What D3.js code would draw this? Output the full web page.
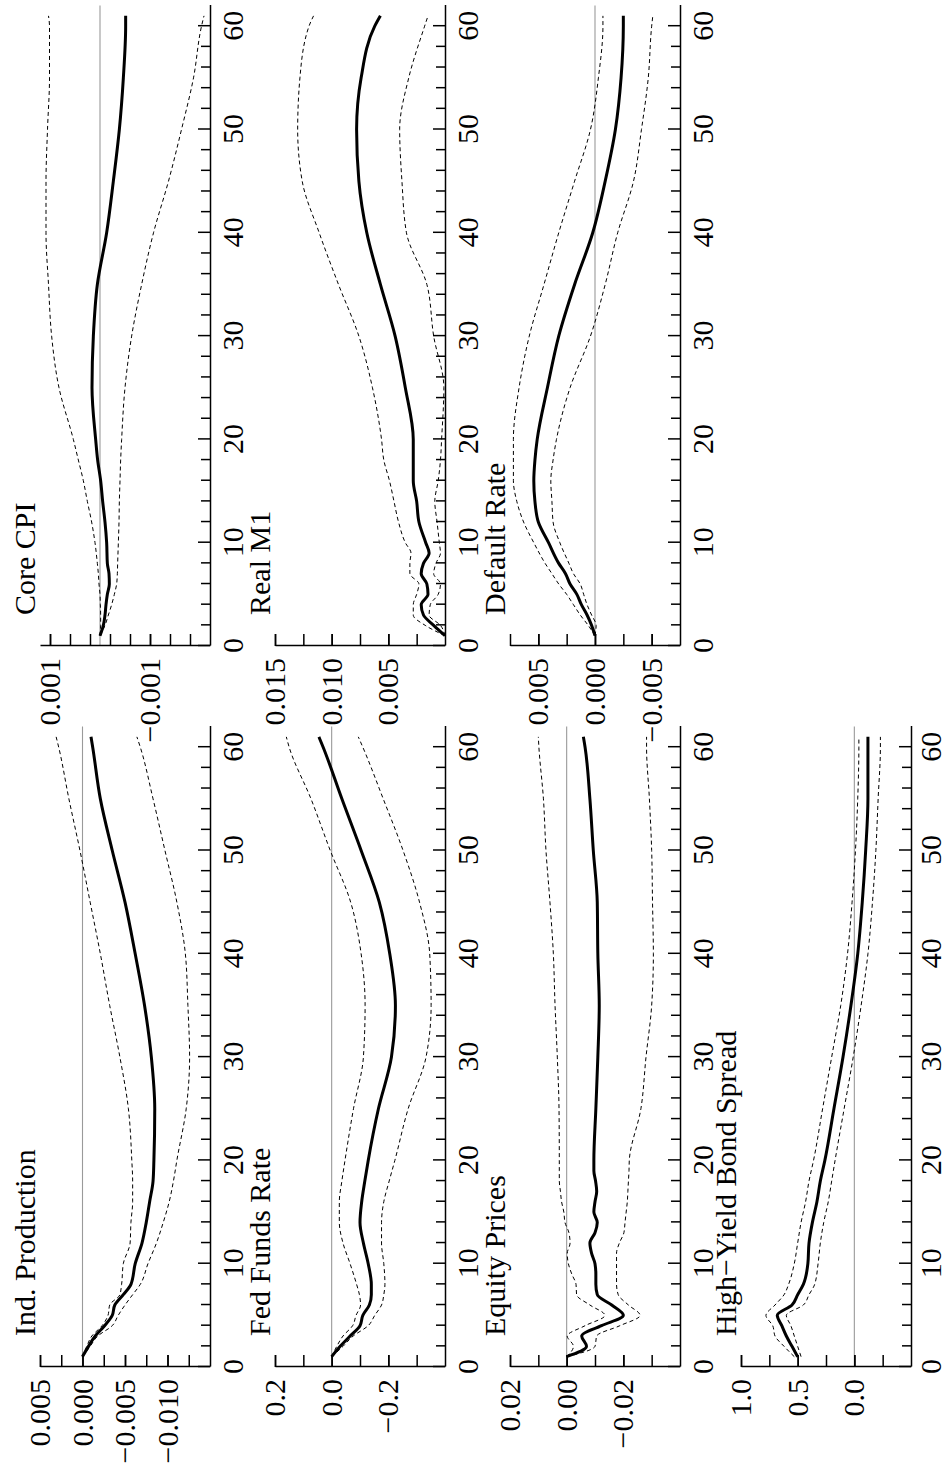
<!DOCTYPE html>
<html><head><meta charset="utf-8">
<script src="https://cdn.jsdelivr.net/npm/d3@7"></script>
<style>
html,body{margin:0;padding:0;background:#fff;}
svg{display:block;}
text{font-family:"Liberation Serif","Times New Roman",serif;}
</style>
</head><body>
<svg id="c" width="948" height="1465"></svg>
<script>
// ---------------- data ----------------
const horizons   = [1,2,3,4,5,6,7,8,10,12,14,16,18,20,25,30,35,40,45,50,55,60,61];
const horizonsM1 = [1,2,3,4,5,6,7,8,9,10,12,14,16,18,20,25,30,35,40,45,50,55,60,61];
const horizonsEq = [1,2,3,4,5,6,7,8,9,10,11,12,13,14,15,16,17,18,19,20,25,30,35,40,45,50,55,60,61];

const ipMid = [0,-0.0007,-0.0015,-0.0026,-0.0035,-0.0038,-0.0048,-0.0057,-0.0062,-0.0070,-0.0075,-0.0079,-0.0083,-0.0084,-0.0085,-0.0081,-0.0073,-0.0062,-0.0050,-0.0035,-0.0021,-0.0012,-0.0010];
const ipHi  = [0,-0.0005,-0.0011,-0.0023,-0.0030,-0.0032,-0.0044,-0.0046,-0.0048,-0.0056,-0.0057,-0.0059,-0.0059,-0.0058,-0.0054,-0.0044,-0.0032,-0.0021,-0.0009,0.0003,0.0016,0.0028,0.0031];
const ipLo  = [0,-0.0009,-0.0018,-0.0035,-0.0042,-0.0050,-0.0059,-0.0068,-0.0077,-0.0087,-0.0095,-0.0102,-0.0107,-0.0111,-0.0122,-0.0126,-0.0124,-0.0121,-0.0111,-0.0097,-0.0083,-0.0068,-0.0064];

const cpiMid = [0,-0.000067,-0.0001,-0.00012,-0.000147,-0.000187,-0.00018,-0.000147,-0.000133,-0.0001,-0.000053,-0.000013,0.000047,0.000087,0.00016,0.000133,0.000053,-0.000133,-0.000267,-0.000387,-0.000467,-0.000513,-0.000513];
const cpiHi  = [0,-0.000013,-0.000013,-0.000007,0,0.00002,0.000033,0.000053,0.0001,0.000167,0.000253,0.000333,0.000433,0.000533,0.00082,0.000967,0.00103,0.00108,0.00108,0.00105,0.00101,0.00101,0.00103];
const cpiLo  = [0,-0.0001,-0.000167,-0.000233,-0.000287,-0.000333,-0.000347,-0.000353,-0.000367,-0.00038,-0.000387,-0.0004,-0.000413,-0.000433,-0.0005,-0.000633,-0.000833,-0.00107,-0.00137,-0.00163,-0.00187,-0.00203,-0.00208];

const ffMid = [0,-0.03,-0.065,-0.10,-0.11,-0.133,-0.14,-0.14,-0.129,-0.112,-0.10,-0.106,-0.117,-0.129,-0.165,-0.211,-0.225,-0.205,-0.168,-0.104,-0.036,0.03,0.045];
const ffHi  = [0,-0.018,-0.04,-0.074,-0.086,-0.102,-0.098,-0.088,-0.065,-0.04,-0.027,-0.027,-0.036,-0.047,-0.077,-0.112,-0.118,-0.104,-0.067,0.005,0.073,0.15,0.16];
const ffLo  = [0,-0.04,-0.076,-0.129,-0.152,-0.176,-0.184,-0.188,-0.184,-0.176,-0.176,-0.184,-0.203,-0.223,-0.27,-0.333,-0.351,-0.346,-0.31,-0.252,-0.182,-0.11,-0.094];

const m1Mid = [0,0.001,0.0019,0.0021,0.0015,0.0016,0.0021,0.0019,0.0014,0.0017,0.0023,0.0025,0.0028,0.0028,0.0028,0.0035,0.0044,0.0057,0.0069,0.0076,0.0078,0.0074,0.0062,0.0057];
const m1Hi  = [0,0.00175,0.0028,0.0028,0.0025,0.0023,0.0031,0.0031,0.003,0.0035,0.0041,0.0045,0.0049,0.0054,0.0056,0.0064,0.0076,0.0094,0.0111,0.0126,0.013,0.0128,0.012,0.0116];
const m1Lo  = [0,0.0004,0.0014,0.0013,0.0006,0.0004,0.001,0.0008,0.0004,0.0005,0.0007,0.0009,0.0006,0.0004,0.0003,0.0001,0.001,0.0016,0.0034,0.0038,0.004,0.0032,0.0018,0.0015];

const eqMid = [0,-0.007,-0.0053,-0.0123,-0.02,-0.0159,-0.0108,-0.0103,-0.0103,-0.01,-0.0088,-0.0082,-0.01,-0.0108,-0.0096,-0.01,-0.0106,-0.0102,-0.0096,-0.0096,-0.0103,-0.011,-0.0115,-0.011,-0.0108,-0.0094,-0.0082,-0.0065,-0.0059];
const eqHi  = [0,-0.0024,-0.0002,-0.0065,-0.0135,-0.0082,-0.0035,-0.0033,-0.0018,-0.0006,-0.0002,-0.0012,-0.0008,0.0006,0.001,0.0018,0.0022,0.0026,0.0026,0.0026,0.0027,0.0033,0.0041,0.0047,0.0059,0.0073,0.0082,0.0098,0.01];
const eqLo  = [0,-0.01,-0.0106,-0.0188,-0.0259,-0.0218,-0.0182,-0.0176,-0.0176,-0.0176,-0.0176,-0.0186,-0.0202,-0.0206,-0.021,-0.0214,-0.0216,-0.0218,-0.022,-0.0221,-0.0262,-0.028,-0.03,-0.0306,-0.0303,-0.03,-0.0292,-0.0282,-0.0282];

const drMid = [0,0.0003,0.0007,0.0012,0.0016,0.0022,0.0026,0.0032,0.0041,0.005,0.0053,0.0054,0.0053,0.0051,0.0042,0.0032,0.0018,0.0002,-0.0009,-0.0018,-0.0023,-0.0025,-0.0025];
const drHi  = [0,0.0006,0.0013,0.0019,0.0025,0.0032,0.0038,0.0044,0.0054,0.0063,0.0069,0.0072,0.0072,0.0072,0.0067,0.0058,0.0045,0.0032,0.0018,0.0004,-0.0003,-0.0007,-0.0007];
const drLo  = [0,-0.0001,0.0003,0.0007,0.001,0.0013,0.0019,0.0023,0.0031,0.0037,0.0038,0.0039,0.0037,0.0034,0.0022,0.0004,-0.0009,-0.002,-0.0034,-0.0041,-0.0047,-0.005,-0.0051];

const hyMid = [0.5,0.55,0.6,0.64,0.68,0.55,0.5,0.45,0.41,0.4,0.37,0.33,0.3,0.26,0.18,0.1,0.03,-0.03,-0.07,-0.1,-0.12,-0.12,-0.12];
const hyHi  = [0.53,0.62,0.7,0.72,0.78,0.7,0.62,0.58,0.53,0.5,0.47,0.43,0.4,0.36,0.28,0.2,0.12,0.06,0.02,-0.01,-0.03,-0.04,-0.04];
const hyLo  = [0.47,0.5,0.53,0.56,0.6,0.45,0.4,0.35,0.32,0.3,0.27,0.23,0.2,0.17,0.09,0.01,-0.06,-0.12,-0.16,-0.19,-0.21,-0.23,-0.23];

const titles = ["Ind. Production","Core CPI","Fed Funds Rate","Real M1","Equity Prices","Default Rate","High\u2212Yield Bond Spread"];

const xLabelTicks = [0,10,20,30,40,50,60];
const xMinorTicks = [2,4,6,8,12,14,16,18,22,24,26,28,32,34,36,38,42,44,46,48,52,54,56,58];
const xDomain = [0,62];

const ipDomain = [-0.015,0.005], ipTicks = [0.005,0.0025,0,-0.0025,-0.005,-0.0075,-0.01,-0.0125], ipLabelVals = [0.005,0,-0.005,-0.01], ipLabels = ["0.005","0.000","\u22120.005","\u22120.010"];
const cpiDomain = [-0.0022,0.0012], cpiTicks = [0.001,0.0006,0.0002,-0.0002,-0.0006,-0.001,-0.0014,-0.0018], cpiLabelVals = [0.001,-0.001], cpiLabels = ["0.001","\u22120.001"];
const ffDomain = [-0.4,0.2], ffTicks = [0.2,0.1,0,-0.1,-0.2,-0.3], ffLabelVals = [0.2,0,-0.2], ffLabels = ["0.2","0.0","\u22120.2"];
const m1Domain = [0,0.015], m1Ticks = [0.015,0.0125,0.01,0.0075,0.005,0.0025], m1LabelVals = [0.015,0.01,0.005], m1Labels = ["0.015","0.010","0.005"];
const eqDomain = [-0.04,0.02], eqTicks = [0.02,0.01,0,-0.01,-0.02,-0.03], eqLabelVals = [0.02,0,-0.02], eqLabels = ["0.02","0.00","\u22120.02"];
const drDomain = [-0.0075,0.0075], drTicks = [0.0075,0.005,0.0025,0,-0.0025,-0.005], drLabelVals = [0.005,0,-0.005], drLabels = ["0.005","0.000","\u22120.005"];
const hyDomain = [-0.5,1], hyTicks = [1,0.75,0.5,0.25,0,-0.25], hyLabelVals = [1,0.5,0], hyLabels = ["1.0","0.5","0.0"];

// ---------------- layout (landscape coords, rotated onto page) ----------------
const W = 1465, H = 948;
const colX0 = [98, 819];
const pxPerUnit = 10.33;
const rowTop = [40, 275, 510, 741];
const rowXPad = [12, 12, 12, 9];
const plotH = 170;

const panels = [
  {t:0, r:0, c:0, h:horizons,   mid:ipMid,  hi:ipHi,  lo:ipLo,  dom:ipDomain,  ticks:ipTicks,  lv:ipLabelVals,  lt:ipLabels},
  {t:1, r:0, c:1, h:horizons,   mid:cpiMid, hi:cpiHi, lo:cpiLo, dom:cpiDomain, ticks:cpiTicks, lv:cpiLabelVals, lt:cpiLabels},
  {t:2, r:1, c:0, h:horizons,   mid:ffMid,  hi:ffHi,  lo:ffLo,  dom:ffDomain,  ticks:ffTicks,  lv:ffLabelVals,  lt:ffLabels},
  {t:3, r:1, c:1, h:horizonsM1, mid:m1Mid,  hi:m1Hi,  lo:m1Lo,  dom:m1Domain,  ticks:m1Ticks,  lv:m1LabelVals,  lt:m1Labels},
  {t:4, r:2, c:0, h:horizonsEq, mid:eqMid,  hi:eqHi,  lo:eqLo,  dom:eqDomain,  ticks:eqTicks,  lv:eqLabelVals,  lt:eqLabels},
  {t:5, r:2, c:1, h:horizons,   mid:drMid,  hi:drHi,  lo:drLo,  dom:drDomain,  ticks:drTicks,  lv:drLabelVals,  lt:drLabels},
  {t:6, r:3, c:0, h:horizons,   mid:hyMid,  hi:hyHi,  lo:hyLo,  dom:hyDomain,  ticks:hyTicks,  lv:hyLabelVals,  lt:hyLabels}
];

const svg = d3.select("#c");
const root = svg.append("g").attr("transform", `translate(0,${W}) rotate(-90)`);

panels.forEach(p => {
  const x0 = colX0[p.c];
  const x = d3.scaleLinear().domain(xDomain).range([x0, x0 + (xDomain[1]-xDomain[0])*pxPerUnit]);
  const y = d3.scaleLinear().domain(p.dom).range([rowTop[p.r] + plotH, rowTop[p.r]]);
  const g = root.append("g");

  if (p.dom[0] < 0 && p.dom[1] > 0) {
    g.append("line")
      .attr("x1", x(xDomain[0])).attr("x2", x(xDomain[1]))
      .attr("y1", y(0)).attr("y2", y(0))
      .attr("stroke", "#9a9a9a").attr("stroke-width", 1.1);
  }

  const line = d3.line().x((d,i) => x(p.h[i])).y(d => y(d)).curve(d3.curveMonotoneX);
  [p.hi, p.lo].forEach(s => {
    g.append("path").attr("d", line(s)).attr("fill","none")
      .attr("stroke","#000").attr("stroke-width",1).attr("stroke-dasharray","4,3");
  });
  g.append("path").attr("d", line(p.mid)).attr("fill","none")
    .attr("stroke","#000").attr("stroke-width",3).attr("stroke-linejoin","round");

  g.append("g").attr("transform", `translate(${x0},0)`)
    .call(d3.axisLeft(y).tickValues(p.ticks).tickFormat("").tickSizeInner(-12).tickSizeOuter(0));
  const yMajor = g.append("g").attr("transform", `translate(${x0},0)`)
    .call(d3.axisLeft(y).tickValues(p.lv).tickFormat((d,i) => p.lt[i]).tickSizeInner(-12).tickSizeOuter(0).tickPadding(12));
  yMajor.select(".domain").remove();

  const xb = rowTop[p.r] + plotH;
  g.append("g").attr("transform", `translate(0,${xb})`)
    .call(d3.axisBottom(x).tickValues(xMinorTicks).tickFormat("").tickSizeInner(-9).tickSizeOuter(0));
  const xMaj = g.append("g").attr("transform", `translate(0,${xb})`)
    .call(d3.axisBottom(x).tickValues(xLabelTicks).tickFormat(d3.format("d")).tickSizeInner(-12).tickSizeOuter(0).tickPadding(rowXPad[p.r]));
  xMaj.select(".domain").remove();

  g.selectAll(".domain, .tick line").attr("stroke","#000").attr("stroke-width",1.5);
  g.selectAll(".tick text").attr("font-size",30).attr("fill","#000")
    .attr("font-family","'Liberation Serif','Times New Roman',serif");

  g.append("text").attr("x", x0 + 31).attr("y", rowTop[p.r] - 5)
    .attr("font-size", 30).attr("fill","#000").text(titles[p.t]);
});
</script>
</body></html>
